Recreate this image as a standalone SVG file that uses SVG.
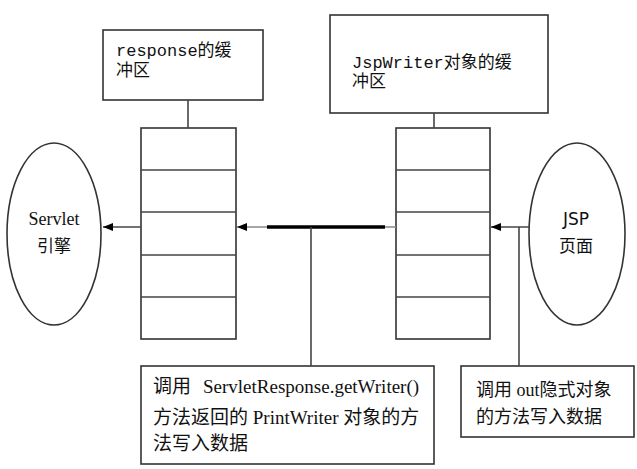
<svg xmlns="http://www.w3.org/2000/svg" width="637" height="469" viewBox="0 0 637 469">
<style>
.box{fill:#fff;stroke:#333;stroke-width:1.6}
.ln{stroke:#444;stroke-width:1.6;fill:none}
.mono{font-family:"Liberation Mono","Noto Sans CJK SC",monospace;font-size:17px;fill:#111}
.ser{font-family:"Liberation Serif","Noto Sans CJK SC",serif;font-size:18px;fill:#111}
.sans{font-family:"DejaVu Sans","Noto Sans CJK SC",sans-serif;font-size:17px;fill:#111}
</style>
<defs>
<marker id="ah" markerWidth="10" markerHeight="8" refX="10" refY="4" orient="auto" markerUnits="userSpaceOnUse">
<path d="M0,0 L10,4 L0,8 Z" fill="#000"/>
</marker>
</defs>
<rect width="637" height="469" fill="#fff"/>
<g id="servlet">
<ellipse cx="54" cy="234" rx="47" ry="91" class="box"/>
<text x="54" y="225" class="ser" text-anchor="middle">Servlet</text>
<text x="54" y="252" class="sans" text-anchor="middle">引擎</text>
</g>
<g id="jsp">
<ellipse cx="577" cy="234" rx="48" ry="91" class="box"/>
<text x="576" y="225" class="sans" text-anchor="middle">JSP</text>
<text x="576" y="252" class="sans" text-anchor="middle">页面</text>
</g>
<g id="response-label">
<rect x="103" y="30" width="160" height="70" class="box"/>
<text class="mono"><tspan x="116" y="56">response的缓</tspan><tspan x="116" y="76">冲区</tspan></text>
</g>
<g id="jspwriter-label">
<rect x="330" y="15" width="218" height="98" class="box"/>
<text class="mono"><tspan x="352" y="68">JspWriter对象的缓</tspan><tspan x="352" y="87">冲区</tspan></text>
</g>
<g id="response-buffer">
<rect x="141" y="128" width="95" height="211" class="box"/>
<path d="M141,170H236M141,212H236M141,255H236M141,297H236" class="ln"/>
</g>
<g id="jspwriter-buffer">
<rect x="396" y="128" width="94" height="211" class="box"/>
<path d="M396,170H490M396,212H490M396,255H490M396,297H490" class="ln"/>
</g>
<g id="note-left">
<rect x="141" y="366" width="293" height="98" class="box"/>
<text class="ser" style="font-size:19px"><tspan x="153" y="393">调用</tspan><tspan x="203" y="393">ServletResponse.getWriter()</tspan><tspan x="153" y="424">方法返回的 PrintWriter 对象的方</tspan><tspan x="153" y="450">法写入数据</tspan></text>
</g>
<g id="note-right">
<rect x="461" y="366" width="173" height="71" class="box"/>
<text class="ser"><tspan x="476" y="396">调用 out隐式对象</tspan><tspan x="476" y="423">的方法写入数据</tspan></text>
</g>
<g id="connectors">
<line x1="188" y1="100" x2="188" y2="128" class="ln"/>
<line x1="434" y1="113" x2="434" y2="128" class="ln"/>
<line x1="141" y1="227" x2="103" y2="227" class="ln" marker-end="url(#ah)"/>
<line x1="396" y1="227" x2="237" y2="227" stroke="#888" stroke-width="1.4" marker-end="url(#ah)"/>
<line x1="267" y1="227" x2="385" y2="227" stroke="#000" stroke-width="3.5"/>
<line x1="311" y1="227" x2="311" y2="366" class="ln"/>
<line x1="529" y1="227" x2="491" y2="227" class="ln" marker-end="url(#ah)"/>
<line x1="519" y1="227" x2="519" y2="366" class="ln"/>
</g>
</svg>
